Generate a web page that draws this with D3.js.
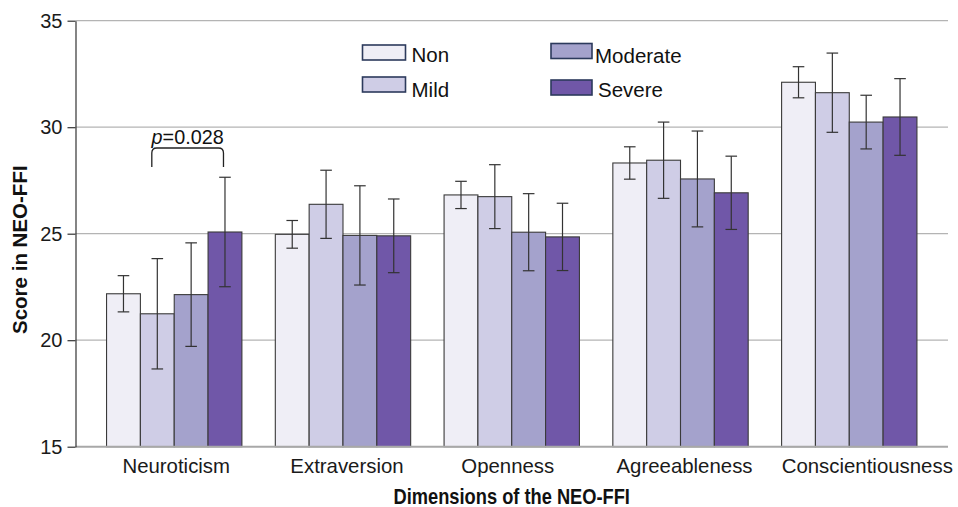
<!DOCTYPE html>
<html>
<head>
<meta charset="utf-8">
<script src="https://cdn.jsdelivr.net/npm/d3@7"></script>
<style>
  html, body { margin: 0; padding: 0; background: #fff; }
  svg { display: block; font-family: "Liberation Sans", Arial, sans-serif; }
</style>
</head>
<body>
<svg id="chart" width="958" height="507"></svg>
<script>
// NEO-FFI dimension scores by depression severity group (mean ± error)
const dimensions = ["Neuroticism", "Extraversion", "Openness", "Agreeableness", "Conscientiousness"];
const groups = ["Non", "Mild", "Moderate", "Severe"];
const colors = ["#efeef6", "#cfcde6", "#a4a2cc", "#7057a8"];

const nonMean      = [22.18, 24.97, 26.82, 28.32, 32.11];
const nonErr       = [0.85, 0.65, 0.64, 0.76, 0.73];
const mildMean     = [21.24, 26.38, 26.74, 28.45, 31.62];
const mildErr      = [2.59, 1.60, 1.50, 1.79, 1.86];
const moderateMean = [22.14, 24.92, 25.07, 27.57, 30.24];
const moderateErr  = [2.43, 2.33, 1.81, 2.25, 1.26];
const severeMean   = [25.08, 24.90, 24.85, 26.92, 30.48];
const severeErr    = [2.57, 1.73, 1.58, 1.72, 1.80];

const yTicks = [15, 20, 25, 30, 35];
const pLabel = "0.028";

(function draw() {
  const means = [nonMean, mildMean, moderateMean, severeMean];
  const errs = [nonErr, mildErr, moderateErr, severeErr];

  const rows = [];
  dimensions.forEach((d, i) => {
    groups.forEach((g, j) => {
      rows.push({ dim: d, group: g, gi: j, mean: means[j][i], err: errs[j][i] });
    });
  });

  const svg = d3.select("#chart");
  const plotLeft = 75.5, plotRight = 948, plotTop = 20.7, plotBottom = 446.7;

  const x0 = d3.scaleBand().domain(dimensions).range([plotLeft, plotRight])
    .paddingInner(0.198).paddingOuter(0.184);
  const x1 = d3.scaleBand().domain(groups).range([0, x0.bandwidth()]).padding(0);
  const y = d3.scaleLinear().domain([15, 35]).range([plotBottom, plotTop]);

  // horizontal gridlines
  svg.append("g").selectAll("line")
    .data(yTicks.filter(t => t > 15))
    .join("line")
    .attr("x1", plotLeft).attr("x2", plotRight)
    .attr("y1", d => y(d)).attr("y2", d => y(d))
    .attr("stroke", "#b4b4b4").attr("stroke-width", 1.2);

  // bars
  svg.append("g").selectAll("rect")
    .data(rows)
    .join("rect")
    .attr("x", d => x0(d.dim) + x1(d.group))
    .attr("y", d => y(d.mean))
    .attr("width", x1.bandwidth())
    .attr("height", d => y(15) - y(d.mean))
    .attr("fill", d => colors[d.gi])
    .attr("stroke", "#3a3a3a")
    .attr("stroke-width", 1.1);

  // error bars
  const eb = svg.append("g").attr("stroke", "#333").attr("stroke-width", 1.2);
  const cap = 5.8;
  rows.forEach(d => {
    const cx = x0(d.dim) + x1(d.group) + x1.bandwidth() / 2;
    const yt = y(d.mean + d.err), yb = y(d.mean - d.err);
    eb.append("line").attr("x1", cx).attr("x2", cx).attr("y1", yt).attr("y2", yb);
    eb.append("line").attr("x1", cx - cap).attr("x2", cx + cap).attr("y1", yt).attr("y2", yt);
    eb.append("line").attr("x1", cx - cap).attr("x2", cx + cap).attr("y1", yb).attr("y2", yb);
  });

  // bottom baseline
  svg.append("line")
    .attr("x1", plotLeft).attr("x2", plotRight)
    .attr("y1", y(15)).attr("y2", y(15))
    .attr("stroke", "#a8a8a8").attr("stroke-width", 2);

  // y axis
  const yAxis = svg.append("g")
    .attr("transform", `translate(${plotLeft},0)`)
    .call(d3.axisLeft(y).tickValues(yTicks).tickSize(8).tickPadding(5).tickSizeOuter(0));
  yAxis.select(".domain").attr("stroke", "#333").attr("stroke-width", 1.2);
  yAxis.selectAll(".tick line").attr("stroke", "#333").attr("stroke-width", 1.2);
  yAxis.selectAll(".tick text")
    .attr("font-size", 20).attr("fill", "#1a1a1a")
    .attr("font-family", "Liberation Sans, Arial, sans-serif");

  // x axis labels; the long last label is nudged right toward the edge
  const labelNudge = [2, 4, -4, 4, 18];
  const xAxis = svg.append("g")
    .attr("transform", `translate(0,${plotBottom})`)
    .call(d3.axisBottom(x0).tickSize(0).tickPadding(0));
  xAxis.select(".domain").remove();
  xAxis.selectAll(".tick text")
    .attr("x", (d, i) => labelNudge[i])
    .attr("y", 26.5).attr("dy", null)
    .attr("font-size", 20.4).attr("fill", "#1a1a1a")
    .attr("font-family", "Liberation Sans, Arial, sans-serif");

  // axis titles
  svg.append("text")
    .attr("transform", `translate(${(plotLeft + plotRight) / 2},504) scale(0.85,1)`)
    .attr("text-anchor", "middle")
    .attr("font-size", 21.5).attr("font-weight", "bold").attr("fill", "#111")
    .text("Dimensions of the NEO-FFI");

  svg.append("text")
    .attr("transform", `translate(27,${(plotTop + plotBottom) / 2 + 16}) rotate(-90)`)
    .attr("text-anchor", "middle")
    .attr("font-size", 20.5).attr("font-weight", "bold").attr("fill", "#111")
    .text("Score in NEO-FFI");

  // legend (two columns)
  const legendPos = [
    { x: 362.5, y: 45, w: 43, tx: 411.5, ty: 62 },
    { x: 362.5, y: 77, w: 43, tx: 411.5, ty: 97 },
    { x: 551, y: 43.5, w: 41, tx: 595, ty: 63 },
    { x: 551, y: 80, w: 41, tx: 598, ty: 96.5 }
  ];
  const legend = svg.append("g");
  groups.forEach((g, j) => {
    const p = legendPos[j];
    legend.append("rect")
      .attr("x", p.x).attr("y", p.y).attr("width", p.w).attr("height", 15)
      .attr("fill", colors[j]).attr("stroke", "#2c3a5c").attr("stroke-width", 1.6);
    legend.append("text")
      .attr("x", p.tx).attr("y", p.ty)
      .attr("font-size", 20.5).attr("fill", "#111")
      .text(g);
  });

  // significance bracket between Mild and Severe neuroticism
  const nb = x0("Neuroticism");
  const bx1 = nb + x1("Mild") + x1.bandwidth() / 2 - 5.5;
  const bx2 = nb + x1("Severe") + x1.bandwidth() / 2 - 1.5;
  const by = 148, legY = 167, r = 5;
  svg.append("path")
    .attr("d", `M${bx1},${legY} L${bx1},${by + r} Q${bx1},${by} ${bx1 + r},${by} L${bx2 - r},${by} Q${bx2},${by} ${bx2},${by + r} L${bx2},${legY}`)
    .attr("fill", "none").attr("stroke", "#222").attr("stroke-width", 1.3);

  const pt = svg.append("text")
    .attr("x", (bx1 + bx2) / 2).attr("y", 144)
    .attr("text-anchor", "middle")
    .attr("font-size", 19.8).attr("fill", "#111");
  pt.append("tspan").attr("font-style", "italic").text("p");
  pt.append("tspan").text("=" + pLabel);
})();
</script>
</body>
</html>
